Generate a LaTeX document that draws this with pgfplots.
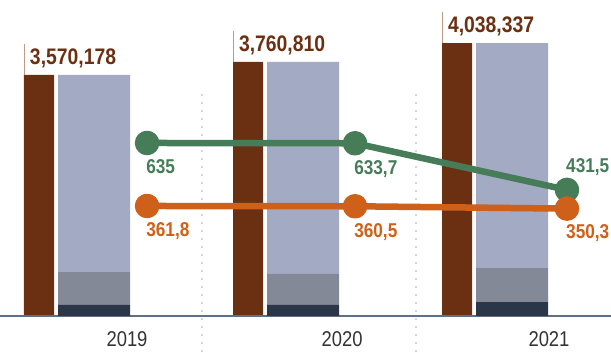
\documentclass[border=0pt]{standalone}
\usepackage{pgfplots}
\pgfplotsset{compat=1.18}
\usepackage{pgfplotstable}
\usepackage{fontspec}
\setmainfont{Liberation Sans}
\newfontfamily\condf[FakeStretch=0.86]{Liberation Sans}
\definecolor{brownc}{HTML}{6B3012}
\definecolor{rulec}{HTML}{C09A88}
\definecolor{lightc}{HTML}{A3AAC4}
\definecolor{grayc}{HTML}{838996}
\definecolor{navyc}{HTML}{2B3648}
\definecolor{greenc}{HTML}{477C59}
\definecolor{orangec}{HTML}{CF6019}
\definecolor{basec}{HTML}{5F6F86}
\definecolor{yearc}{HTML}{333333}
\definecolor{dotc}{HTML}{C8C8C8}

\pgfplotstableread{
x total lab
0 3570.178 3,570,178
1 3760.810 3,760,810
2 4038.337 4,038,337
}\totals

\pgfplotstableread{
x navy gray light
0 163 488 2919.2
1 163 459 3138.8
2 207 503 3328.3
}\stack

\pgfplotstableread{
x y lab dy
0.254 635 635 -31
1.249 633.7 633,7 -31
2.263 431.5 431,5 17
}\greenline

\pgfplotstableread{
x y lab dy
0.254 361.8 361,8 -31
1.249 360.5 360,5 -31
2.263 350.3 350,3 -30
}\orangeline

\pgfplotsset{base/.style={scale only axis, width=611pt, height=316pt,
  xmin=-0.44976, xmax=2.47368, at={(0,0)}, anchor=south west, clip=false}}

\begin{document}
\begin{tikzpicture}
% brown total bars
\begin{axis}[base, hide axis, ymin=0, ymax=4676.8, ybar, bar width=30pt]
\draw[dotc, line width=2.2pt, line cap=round, dash pattern=on 0pt off 8pt] (axis cs:0.517,3271) -- (axis cs:0.517,-548);
\draw[dotc, line width=2.2pt, line cap=round, dash pattern=on 0pt off 8pt] (axis cs:1.541,3271) -- (axis cs:1.541,-548);
\addplot[fill=brownc, draw=none, bar shift=-55pt, point meta=explicit symbolic,
  nodes near coords={\textcolor{rulec}{\rule{0.8pt}{31pt}}\hspace{5pt}\raisebox{10pt}{\textcolor{brownc}{\pgfplotspointmeta}}},
  every node near coord/.append style={anchor=south west, inner sep=0pt, xshift=-15pt,
    font=\condf\bfseries\fontsize{22.5}{24}\selectfont}]
  table[x=x, y=total, meta=lab]{\totals};
\end{axis}
% stacked bars
\begin{axis}[base, ymin=0, ymax=4676.8, ybar stacked, bar width=72pt,
  axis x line=bottom, axis y line=none, ytick=\empty,
  x axis line style={-, draw=basec, line width=1.2pt},
  xtick={0.158,1.187,2.177}, xticklabels={2019,2020,2021}, major tick length=0pt,
  xticklabel style={anchor=base, yshift=-31pt, text=yearc, font=\condf\fontsize{21.4}{23}\selectfont}]
\addplot[fill=navyc, draw=none] table[x=x, y=navy]{\stack};
\addplot[fill=grayc, draw=none] table[x=x, y=gray]{\stack};
\addplot[fill=lightc, draw=none] table[x=x, y=light]{\stack};
\end{axis}
% lines
\begin{axis}[base, hide axis, ymin=-115.3, ymax=1255]
\addplot[greenc, line width=6.5pt, line join=round, mark=*, mark size=9pt,
  mark options={fill=greenc, draw=none}, point meta=explicit symbolic,
  visualization depends on={\thisrow{dy}\as\dy}, nodes near coords,
  every node near coord/.append style={anchor=base west, inner sep=0pt, xshift=-4pt, yshift=\dy*1pt,
    text=greenc, font=\condf\bfseries\fontsize{20}{22}\selectfont}]
  table[x=x, y=y, meta=lab]{\greenline};
\addplot[orangec, line width=6.5pt, line join=round, mark=*, mark size=9pt,
  mark options={fill=orangec, draw=none}, point meta=explicit symbolic,
  visualization depends on={\thisrow{dy}\as\dy}, nodes near coords,
  every node near coord/.append style={anchor=base west, inner sep=0pt, xshift=-4pt, yshift=\dy*1pt,
    text=orangec, font=\condf\bfseries\fontsize{20}{22}\selectfont}]
  table[x=x, y=y, meta=lab]{\orangeline};
\end{axis}
\pgfresetboundingbox
\path (0pt,-37pt) rectangle (611pt,316pt);
\end{tikzpicture}
\end{document}
